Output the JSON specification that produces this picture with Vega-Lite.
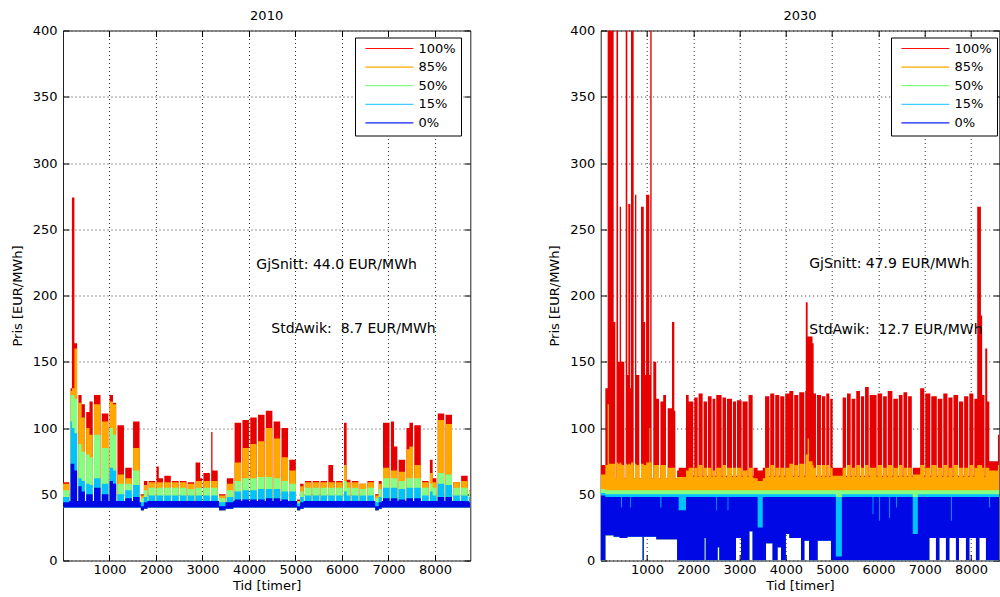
{
  "$schema": "https://vega.github.io/schema/vega-lite/v6.json",
  "background": "white",
  "padding": {"left": 10, "top": 8.5, "right": 0, "bottom": 0},
  "autosize": {"type": "pad"},
  "bounds": "flush",
  "spacing": 129.7,
  "resolve": {"scale": {"color": "independent"}, "legend": {"color": "independent"}},
  "config": {
    "font": "DejaVu Sans",
    "view": {"stroke": "#222", "strokeWidth": 1},
    "axis": {"labelFont": "DejaVu Sans", "titleFont": "DejaVu Sans", "labelColor": "#000", "titleColor": "#000", "labelFontSize": 13, "titleFontSize": 13, "titleFontWeight": "normal", "tickColor": "#000", "domain": false, "labelFlush": false, "format": "d"},
    "legend": {
      "labelFont": "DejaVu Sans", "orient": "none", "legendY": 7, "title": null,
      "symbolType": "stroke", "symbolSize": 2304, "clipHeight": 12, "rowPadding": 5.6, "padding": 5,
      "symbolOffset": 4.4, "labelOffset": 4, "labelFontSize": 13, "labelColor": "#000",
      "strokeColor": "#000", "fillColor": "#fff"
    }
  },
  "datasets": {
    "y2010": [
      {"t":0,"lo":40,"p0":44,"p15":48,"p50":53,"p85":58,"p100":59},
      {"t":135,"lo":40,"p0":45,"p15":45,"p50":45,"p85":45,"p100":45},
      {"t":163,"lo":40,"p0":73,"p15":105,"p50":125,"p85":128,"p100":130},
      {"t":192,"lo":40,"p0":73,"p15":100,"p50":125,"p85":130,"p100":274},
      {"t":245,"lo":40,"p0":68,"p15":96,"p50":122,"p85":160,"p100":164},
      {"t":303,"lo":40,"p0":45,"p15":45,"p50":45,"p85":45,"p100":45},
      {"t":331,"lo":40,"p0":56,"p15":62,"p50":88,"p85":119,"p100":125},
      {"t":400,"lo":40,"p0":52,"p15":60,"p50":82,"p85":108,"p100":118},
      {"t":471,"lo":40,"p0":45,"p15":45,"p50":45,"p85":45,"p100":45},
      {"t":499,"lo":40,"p0":50,"p15":58,"p50":80,"p85":100,"p100":112},
      {"t":570,"lo":40,"p0":50,"p15":57,"p50":78,"p85":95,"p100":120},
      {"t":639,"lo":40,"p0":45,"p15":45,"p50":45,"p85":45,"p100":45},
      {"t":667,"lo":40,"p0":55,"p15":62,"p50":95,"p85":118,"p100":125},
      {"t":807,"lo":40,"p0":45,"p15":45,"p50":45,"p85":45,"p100":45},
      {"t":835,"lo":40,"p0":50,"p15":58,"p50":85,"p85":105,"p100":111},
      {"t":975,"lo":40,"p0":45,"p15":45,"p50":45,"p85":45,"p100":45},
      {"t":1003,"lo":40,"p0":60,"p15":70,"p50":100,"p85":120,"p100":125},
      {"t":1075,"lo":40,"p0":58,"p15":68,"p50":95,"p85":118,"p100":119},
      {"t":1143,"lo":40,"p0":45,"p15":45,"p50":45,"p85":45,"p100":45},
      {"t":1171,"lo":40,"p0":45,"p15":50,"p50":58,"p85":65,"p100":102},
      {"t":1311,"lo":40,"p0":45,"p15":45,"p50":45,"p85":45,"p100":45},
      {"t":1339,"lo":40,"p0":47,"p15":53,"p50":58,"p85":62,"p100":70},
      {"t":1479,"lo":40,"p0":45,"p15":45,"p50":45,"p85":45,"p100":45},
      {"t":1507,"lo":40,"p0":48,"p15":57,"p50":68,"p85":85,"p100":105},
      {"t":1647,"lo":40,"p0":44,"p15":44,"p50":44,"p85":44,"p100":44},
      {"t":1675,"lo":38,"p0":41,"p15":44,"p50":47,"p85":49,"p100":50},
      {"t":1740,"lo":39,"p0":44,"p15":48,"p50":53,"p85":57,"p100":60},
      {"t":1815,"lo":40,"p0":45,"p15":45,"p50":45,"p85":45,"p100":45},
      {"t":1843,"lo":40,"p0":45,"p15":49,"p50":55,"p85":59,"p100":60},
      {"t":1983,"lo":40,"p0":45,"p15":45,"p50":45,"p85":45,"p100":45},
      {"t":2011,"lo":40,"p0":45,"p15":49,"p50":55,"p85":59,"p100":71},
      {"t":2060,"lo":40,"p0":45,"p15":49,"p50":55,"p85":59,"p100":62},
      {"t":2151,"lo":40,"p0":45,"p15":45,"p50":45,"p85":45,"p100":45},
      {"t":2179,"lo":40,"p0":45,"p15":49,"p50":55,"p85":59,"p100":64},
      {"t":2319,"lo":40,"p0":45,"p15":45,"p50":45,"p85":45,"p100":45},
      {"t":2347,"lo":40,"p0":45,"p15":49,"p50":55,"p85":59,"p100":60},
      {"t":2487,"lo":40,"p0":45,"p15":45,"p50":45,"p85":45,"p100":45},
      {"t":2515,"lo":40,"p0":45,"p15":49,"p50":55,"p85":59,"p100":60},
      {"t":2655,"lo":40,"p0":45,"p15":45,"p50":45,"p85":45,"p100":45},
      {"t":2683,"lo":40,"p0":45,"p15":49,"p50":54,"p85":58,"p100":59},
      {"t":2823,"lo":40,"p0":45,"p15":45,"p50":45,"p85":45,"p100":45},
      {"t":2851,"lo":40,"p0":45,"p15":49,"p50":55,"p85":60,"p100":74},
      {"t":2950,"lo":40,"p0":45,"p15":49,"p50":55,"p85":60,"p100":62},
      {"t":2991,"lo":40,"p0":45,"p15":45,"p50":45,"p85":45,"p100":45},
      {"t":3019,"lo":40,"p0":45,"p15":49,"p50":55,"p85":60,"p100":66},
      {"t":3159,"lo":40,"p0":45,"p15":45,"p50":45,"p85":45,"p100":45},
      {"t":3187,"lo":40,"p0":45,"p15":49,"p50":55,"p85":60,"p100":97},
      {"t":3215,"lo":40,"p0":45,"p15":49,"p50":55,"p85":60,"p100":68},
      {"t":3327,"lo":40,"p0":45,"p15":45,"p50":45,"p85":45,"p100":45},
      {"t":3355,"lo":38,"p0":41,"p15":44,"p50":47,"p85":49,"p100":50},
      {"t":3495,"lo":39,"p0":44,"p15":44,"p50":44,"p85":44,"p100":44},
      {"t":3523,"lo":39,"p0":44,"p15":48,"p50":53,"p85":58,"p100":62},
      {"t":3663,"lo":40,"p0":45,"p15":45,"p50":45,"p85":45,"p100":45},
      {"t":3691,"lo":40,"p0":46,"p15":52,"p50":60,"p85":74,"p100":104},
      {"t":3831,"lo":40,"p0":45,"p15":45,"p50":45,"p85":45,"p100":45},
      {"t":3859,"lo":40,"p0":46,"p15":53,"p50":62,"p85":85,"p100":106},
      {"t":3999,"lo":40,"p0":45,"p15":45,"p50":45,"p85":45,"p100":45},
      {"t":4027,"lo":40,"p0":46,"p15":53,"p50":62,"p85":88,"p100":108},
      {"t":4167,"lo":40,"p0":45,"p15":45,"p50":45,"p85":45,"p100":45},
      {"t":4195,"lo":40,"p0":46,"p15":54,"p50":63,"p85":90,"p100":110},
      {"t":4335,"lo":40,"p0":45,"p15":45,"p50":45,"p85":45,"p100":45},
      {"t":4363,"lo":40,"p0":47,"p15":54,"p50":63,"p85":100,"p100":113},
      {"t":4503,"lo":40,"p0":45,"p15":45,"p50":45,"p85":45,"p100":45},
      {"t":4531,"lo":40,"p0":47,"p15":54,"p50":62,"p85":92,"p100":105},
      {"t":4671,"lo":40,"p0":45,"p15":45,"p50":45,"p85":45,"p100":45},
      {"t":4699,"lo":40,"p0":46,"p15":52,"p50":60,"p85":78,"p100":100},
      {"t":4839,"lo":40,"p0":45,"p15":45,"p50":45,"p85":45,"p100":45},
      {"t":4867,"lo":40,"p0":45,"p15":52,"p50":58,"p85":68,"p100":76},
      {"t":5007,"lo":40,"p0":45,"p15":45,"p50":45,"p85":45,"p100":45},
      {"t":5035,"lo":38,"p0":41,"p15":43,"p50":44,"p85":45,"p100":46},
      {"t":5100,"lo":39,"p0":44,"p15":48,"p50":52,"p85":56,"p100":58},
      {"t":5175,"lo":40,"p0":45,"p15":45,"p50":45,"p85":45,"p100":45},
      {"t":5203,"lo":40,"p0":45,"p15":49,"p50":55,"p85":59,"p100":60},
      {"t":5343,"lo":40,"p0":45,"p15":45,"p50":45,"p85":45,"p100":45},
      {"t":5371,"lo":40,"p0":45,"p15":49,"p50":55,"p85":59,"p100":60},
      {"t":5511,"lo":40,"p0":45,"p15":45,"p50":45,"p85":45,"p100":45},
      {"t":5539,"lo":40,"p0":45,"p15":49,"p50":55,"p85":59,"p100":60},
      {"t":5679,"lo":40,"p0":45,"p15":45,"p50":45,"p85":45,"p100":45},
      {"t":5707,"lo":40,"p0":45,"p15":49,"p50":55,"p85":59,"p100":72},
      {"t":5810,"lo":40,"p0":45,"p15":49,"p50":55,"p85":59,"p100":60},
      {"t":5847,"lo":40,"p0":45,"p15":45,"p50":45,"p85":45,"p100":45},
      {"t":5875,"lo":40,"p0":45,"p15":49,"p50":55,"p85":59,"p100":60},
      {"t":6015,"lo":40,"p0":45,"p15":45,"p50":45,"p85":45,"p100":45},
      {"t":6043,"lo":40,"p0":45,"p15":52,"p50":60,"p85":72,"p100":104},
      {"t":6100,"lo":40,"p0":45,"p15":49,"p50":55,"p85":59,"p100":61},
      {"t":6183,"lo":40,"p0":45,"p15":45,"p50":45,"p85":45,"p100":45},
      {"t":6211,"lo":40,"p0":45,"p15":49,"p50":55,"p85":59,"p100":60},
      {"t":6351,"lo":40,"p0":45,"p15":45,"p50":45,"p85":45,"p100":45},
      {"t":6379,"lo":40,"p0":45,"p15":49,"p50":54,"p85":58,"p100":58},
      {"t":6519,"lo":40,"p0":45,"p15":45,"p50":45,"p85":45,"p100":45},
      {"t":6547,"lo":40,"p0":45,"p15":49,"p50":55,"p85":59,"p100":60},
      {"t":6687,"lo":40,"p0":45,"p15":45,"p50":45,"p85":45,"p100":45},
      {"t":6715,"lo":38,"p0":41,"p15":44,"p50":47,"p85":49,"p100":50},
      {"t":6790,"lo":39,"p0":44,"p15":48,"p50":54,"p85":58,"p100":60},
      {"t":6855,"lo":40,"p0":45,"p15":45,"p50":45,"p85":45,"p100":45},
      {"t":6883,"lo":40,"p0":47,"p15":55,"p50":62,"p85":70,"p100":104},
      {"t":7023,"lo":40,"p0":45,"p15":45,"p50":45,"p85":45,"p100":45},
      {"t":7051,"lo":40,"p0":47,"p15":55,"p50":62,"p85":68,"p100":105},
      {"t":7120,"lo":40,"p0":47,"p15":55,"p50":62,"p85":68,"p100":86},
      {"t":7191,"lo":40,"p0":45,"p15":45,"p50":45,"p85":45,"p100":45},
      {"t":7219,"lo":40,"p0":46,"p15":54,"p50":60,"p85":67,"p100":76},
      {"t":7359,"lo":40,"p0":45,"p15":45,"p50":45,"p85":45,"p100":45},
      {"t":7387,"lo":40,"p0":47,"p15":55,"p50":62,"p85":84,"p100":100},
      {"t":7450,"lo":40,"p0":47,"p15":55,"p50":62,"p85":86,"p100":104},
      {"t":7527,"lo":40,"p0":45,"p15":45,"p50":45,"p85":45,"p100":45},
      {"t":7555,"lo":40,"p0":47,"p15":55,"p50":62,"p85":72,"p100":102},
      {"t":7695,"lo":40,"p0":45,"p15":45,"p50":45,"p85":45,"p100":45},
      {"t":7723,"lo":40,"p0":45,"p15":49,"p50":55,"p85":59,"p100":60},
      {"t":7863,"lo":40,"p0":45,"p15":45,"p50":45,"p85":45,"p100":45},
      {"t":7891,"lo":40,"p0":45,"p15":52,"p50":58,"p85":66,"p100":76},
      {"t":7950,"lo":40,"p0":45,"p15":49,"p50":55,"p85":59,"p100":62},
      {"t":8031,"lo":40,"p0":45,"p15":45,"p50":45,"p85":45,"p100":45},
      {"t":8059,"lo":40,"p0":48,"p15":58,"p50":66,"p85":106,"p100":111},
      {"t":8199,"lo":40,"p0":45,"p15":45,"p50":45,"p85":45,"p100":45},
      {"t":8227,"lo":40,"p0":48,"p15":57,"p50":65,"p85":103,"p100":110},
      {"t":8367,"lo":40,"p0":45,"p15":45,"p50":45,"p85":45,"p100":45},
      {"t":8395,"lo":40,"p0":45,"p15":49,"p50":55,"p85":59,"p100":59},
      {"t":8535,"lo":40,"p0":45,"p15":45,"p50":45,"p85":45,"p100":45},
      {"t":8563,"lo":40,"p0":45,"p15":49,"p50":55,"p85":60,"p100":64},
      {"t":8703,"lo":40,"p0":45,"p15":45,"p50":45,"p85":45,"p100":45},
      {"t":8731,"lo":40,"p0":44,"p15":48,"p50":52,"p85":53,"p100":53},
      {"t":8760,"lo":40,"p0":44,"p15":48,"p50":52,"p85":53,"p100":53}
    ],
    "y2030": [
      {"t":0,"lo":0,"p0":49,"p15":51,"p50":54,"p85":65,"p100":72},
      {"t":100,"lo":19,"p0":48,"p15":50,"p50":53,"p85":72,"p100":130},
      {"t":150,"lo":19,"p0":48,"p15":50,"p50":53,"p85":118,"p100":400},
      {"t":180,"lo":19,"p0":48,"p15":50,"p50":53,"p85":73,"p100":400},
      {"t":280,"lo":18,"p0":48,"p15":50,"p50":53,"p85":73,"p100":180},
      {"t":316,"lo":18,"p0":48,"p15":50,"p50":53,"p85":62,"p100":62},
      {"t":340,"lo":18,"p0":48,"p15":50,"p50":53,"p85":74,"p100":400},
      {"t":375,"lo":18,"p0":48,"p15":50,"p50":53,"p85":73,"p100":150},
      {"t":410,"lo":17,"p0":48,"p15":50,"p50":53,"p85":74,"p100":267},
      {"t":440,"lo":17,"p0":40,"p15":50,"p50":53,"p85":73,"p100":150},
      {"t":456,"lo":17,"p0":48,"p15":50,"p50":53,"p85":72,"p100":150},
      {"t":510,"lo":17,"p0":48,"p15":50,"p50":53,"p85":62,"p100":62},
      {"t":540,"lo":17,"p0":48,"p15":50,"p50":53,"p85":73,"p100":400},
      {"t":575,"lo":18,"p0":48,"p15":50,"p50":53,"p85":72,"p100":140},
      {"t":596,"lo":18,"p0":48,"p15":50,"p50":53,"p85":73,"p100":269},
      {"t":640,"lo":18,"p0":40,"p15":50,"p50":53,"p85":72,"p100":130},
      {"t":655,"lo":18,"p0":48,"p15":50,"p50":53,"p85":74,"p100":400},
      {"t":712,"lo":18,"p0":48,"p15":50,"p50":53,"p85":62,"p100":62},
      {"t":740,"lo":18,"p0":48,"p15":50,"p50":53,"p85":73,"p100":276},
      {"t":770,"lo":18,"p0":48,"p15":50,"p50":53,"p85":72,"p100":140},
      {"t":834,"lo":18,"p0":48,"p15":50,"p50":53,"p85":62,"p100":62},
      {"t":870,"lo":18,"p0":48,"p15":50,"p50":53,"p85":73,"p100":267},
      {"t":906,"lo":0,"p0":48,"p15":50,"p50":53,"p85":73,"p100":267},
      {"t":930,"lo":18,"p0":48,"p15":50,"p50":53,"p85":72,"p100":180},
      {"t":960,"lo":18,"p0":48,"p15":50,"p50":53,"p85":72,"p100":140},
      {"t":980,"lo":18,"p0":48,"p15":50,"p50":53,"p85":74,"p100":276},
      {"t":1050,"lo":18,"p0":48,"p15":50,"p50":53,"p85":100,"p100":140},
      {"t":1070,"lo":18,"p0":48,"p15":50,"p50":53,"p85":74,"p100":400},
      {"t":1100,"lo":18,"p0":48,"p15":50,"p50":53,"p85":62,"p100":62},
      {"t":1136,"lo":18,"p0":48,"p15":50,"p50":53,"p85":72,"p100":150},
      {"t":1200,"lo":16,"p0":48,"p15":50,"p50":53,"p85":72,"p100":122},
      {"t":1260,"lo":16,"p0":48,"p15":50,"p50":53,"p85":62,"p100":62},
      {"t":1290,"lo":16,"p0":40,"p15":50,"p50":53,"p85":72,"p100":120},
      {"t":1310,"lo":16,"p0":48,"p15":50,"p50":53,"p85":72,"p100":120},
      {"t":1350,"lo":16,"p0":48,"p15":50,"p50":53,"p85":72,"p100":125},
      {"t":1410,"lo":16,"p0":48,"p15":50,"p50":53,"p85":62,"p100":62},
      {"t":1446,"lo":16,"p0":48,"p15":50,"p50":53,"p85":70,"p100":115},
      {"t":1540,"lo":16,"p0":48,"p15":50,"p50":53,"p85":70,"p100":180},
      {"t":1590,"lo":16,"p0":48,"p15":50,"p50":53,"p85":70,"p100":113},
      {"t":1612,"lo":16,"p0":48,"p15":50,"p50":53,"p85":62,"p100":62},
      {"t":1650,"lo":0,"p0":48,"p15":50,"p50":53,"p85":63,"p100":68},
      {"t":1684,"lo":0,"p0":38,"p15":50,"p50":53,"p85":63,"p100":70},
      {"t":1842,"lo":0,"p0":48,"p15":50,"p50":53,"p85":68,"p100":125},
      {"t":1900,"lo":0,"p0":48,"p15":50,"p50":53,"p85":70,"p100":120},
      {"t":2000,"lo":0,"p0":48,"p15":50,"p50":53,"p85":63,"p100":64},
      {"t":2020,"lo":0,"p0":48,"p15":50,"p50":53,"p85":70,"p100":123},
      {"t":2094,"lo":0,"p0":48,"p15":50,"p50":53,"p85":63,"p100":64},
      {"t":2114,"lo":0,"p0":48,"p15":50,"p50":53,"p85":72,"p100":126},
      {"t":2202,"lo":0,"p0":48,"p15":50,"p50":53,"p85":63,"p100":64},
      {"t":2222,"lo":0,"p0":48,"p15":50,"p50":53,"p85":70,"p100":120},
      {"t":2240,"lo":17,"p0":48,"p15":50,"p50":53,"p85":70,"p100":120},
      {"t":2270,"lo":0,"p0":48,"p15":50,"p50":53,"p85":70,"p100":120},
      {"t":2296,"lo":0,"p0":48,"p15":50,"p50":53,"p85":63,"p100":64},
      {"t":2316,"lo":0,"p0":48,"p15":50,"p50":53,"p85":70,"p100":124},
      {"t":2396,"lo":0,"p0":48,"p15":50,"p50":53,"p85":63,"p100":64},
      {"t":2416,"lo":0,"p0":48,"p15":50,"p50":53,"p85":68,"p100":122},
      {"t":2476,"lo":0,"p0":48,"p15":50,"p50":53,"p85":63,"p100":64},
      {"t":2496,"lo":0,"p0":38,"p15":50,"p50":53,"p85":70,"p100":125},
      {"t":2510,"lo":0,"p0":48,"p15":50,"p50":53,"p85":70,"p100":125},
      {"t":2526,"lo":10,"p0":48,"p15":50,"p50":53,"p85":70,"p100":125},
      {"t":2562,"lo":0,"p0":48,"p15":50,"p50":53,"p85":70,"p100":125},
      {"t":2612,"lo":0,"p0":48,"p15":50,"p50":53,"p85":63,"p100":64},
      {"t":2632,"lo":0,"p0":48,"p15":50,"p50":53,"p85":72,"p100":123},
      {"t":2706,"lo":0,"p0":48,"p15":50,"p50":53,"p85":63,"p100":64},
      {"t":2726,"lo":0,"p0":48,"p15":50,"p50":53,"p85":70,"p100":122},
      {"t":2742,"lo":0,"p0":38,"p15":50,"p50":53,"p85":70,"p100":122},
      {"t":2757,"lo":0,"p0":48,"p15":50,"p50":53,"p85":70,"p100":122},
      {"t":2836,"lo":0,"p0":48,"p15":50,"p50":53,"p85":63,"p100":64},
      {"t":2856,"lo":0,"p0":48,"p15":50,"p50":53,"p85":70,"p100":120},
      {"t":2922,"lo":17,"p0":48,"p15":50,"p50":53,"p85":63,"p100":64},
      {"t":2942,"lo":17,"p0":48,"p15":50,"p50":53,"p85":70,"p100":121},
      {"t":3030,"lo":0,"p0":48,"p15":50,"p50":53,"p85":70,"p100":121},
      {"t":3044,"lo":0,"p0":48,"p15":50,"p50":53,"p85":63,"p100":64},
      {"t":3064,"lo":0,"p0":48,"p15":50,"p50":53,"p85":68,"p100":120},
      {"t":3174,"lo":0,"p0":48,"p15":50,"p50":53,"p85":63,"p100":64},
      {"t":3194,"lo":0,"p0":48,"p15":50,"p50":53,"p85":70,"p100":125},
      {"t":3210,"lo":22,"p0":48,"p15":50,"p50":53,"p85":70,"p100":125},
      {"t":3282,"lo":0,"p0":48,"p15":50,"p50":53,"p85":63,"p100":64},
      {"t":3300,"lo":0,"p0":48,"p15":50,"p50":53,"p85":62,"p100":70},
      {"t":3390,"lo":0,"p0":25,"p15":50,"p50":53,"p85":60,"p100":68},
      {"t":3500,"lo":0,"p0":48,"p15":50,"p50":53,"p85":62,"p100":70},
      {"t":3550,"lo":0,"p0":48,"p15":50,"p50":53,"p85":70,"p100":124},
      {"t":3570,"lo":13,"p0":48,"p15":50,"p50":53,"p85":70,"p100":124},
      {"t":3642,"lo":13,"p0":48,"p15":50,"p50":53,"p85":63,"p100":64},
      {"t":3662,"lo":13,"p0":48,"p15":50,"p50":53,"p85":72,"p100":126},
      {"t":3714,"lo":0,"p0":48,"p15":50,"p50":53,"p85":72,"p100":126},
      {"t":3750,"lo":0,"p0":48,"p15":50,"p50":53,"p85":63,"p100":64},
      {"t":3770,"lo":0,"p0":48,"p15":50,"p50":53,"p85":70,"p100":125},
      {"t":3820,"lo":10,"p0":48,"p15":50,"p50":53,"p85":70,"p100":125},
      {"t":3858,"lo":10,"p0":48,"p15":50,"p50":53,"p85":63,"p100":64},
      {"t":3878,"lo":10,"p0":48,"p15":50,"p50":53,"p85":70,"p100":124},
      {"t":3894,"lo":0,"p0":48,"p15":50,"p50":53,"p85":70,"p100":124},
      {"t":3966,"lo":0,"p0":48,"p15":50,"p50":53,"p85":63,"p100":64},
      {"t":3986,"lo":0,"p0":48,"p15":50,"p50":53,"p85":70,"p100":126},
      {"t":4000,"lo":20,"p0":48,"p15":50,"p50":53,"p85":70,"p100":126},
      {"t":4074,"lo":17,"p0":48,"p15":50,"p50":53,"p85":73,"p100":128},
      {"t":4160,"lo":17,"p0":48,"p15":50,"p50":53,"p85":63,"p100":64},
      {"t":4180,"lo":17,"p0":48,"p15":50,"p50":53,"p85":72,"p100":125},
      {"t":4268,"lo":17,"p0":48,"p15":50,"p50":53,"p85":63,"p100":64},
      {"t":4288,"lo":17,"p0":48,"p15":50,"p50":53,"p85":73,"p100":127},
      {"t":4326,"lo":0,"p0":48,"p15":50,"p50":53,"p85":73,"p100":127},
      {"t":4398,"lo":15,"p0":48,"p15":50,"p50":53,"p85":63,"p100":64},
      {"t":4418,"lo":15,"p0":48,"p15":50,"p50":53,"p85":73,"p100":128},
      {"t":4430,"lo":15,"p0":48,"p15":50,"p50":53,"p85":80,"p100":195},
      {"t":4470,"lo":15,"p0":48,"p15":50,"p50":53,"p85":92,"p100":169},
      {"t":4500,"lo":0,"p0":48,"p15":50,"p50":53,"p85":75,"p100":169},
      {"t":4576,"lo":0,"p0":48,"p15":50,"p50":53,"p85":72,"p100":164},
      {"t":4600,"lo":0,"p0":48,"p15":50,"p50":53,"p85":70,"p100":126},
      {"t":4650,"lo":0,"p0":48,"p15":50,"p50":53,"p85":63,"p100":64},
      {"t":4670,"lo":0,"p0":48,"p15":50,"p50":53,"p85":72,"p100":125},
      {"t":4686,"lo":15,"p0":48,"p15":50,"p50":53,"p85":72,"p100":125},
      {"t":4758,"lo":15,"p0":48,"p15":50,"p50":53,"p85":63,"p100":64},
      {"t":4778,"lo":15,"p0":48,"p15":50,"p50":53,"p85":72,"p100":124},
      {"t":4852,"lo":15,"p0":48,"p15":50,"p50":53,"p85":63,"p100":64},
      {"t":4872,"lo":15,"p0":48,"p15":50,"p50":53,"p85":72,"p100":126},
      {"t":4938,"lo":15,"p0":48,"p15":50,"p50":53,"p85":63,"p100":64},
      {"t":4958,"lo":15,"p0":48,"p15":50,"p50":53,"p85":70,"p100":122},
      {"t":4974,"lo":0,"p0":48,"p15":50,"p50":53,"p85":70,"p100":122},
      {"t":5010,"lo":0,"p0":48,"p15":50,"p50":53,"p85":64,"p100":70},
      {"t":5080,"lo":0,"p0":3,"p15":48,"p50":53,"p85":64,"p100":70},
      {"t":5210,"lo":0,"p0":48,"p15":50,"p50":53,"p85":64,"p100":70},
      {"t":5226,"lo":0,"p0":48,"p15":50,"p50":53,"p85":70,"p100":123},
      {"t":5300,"lo":0,"p0":48,"p15":50,"p50":53,"p85":63,"p100":64},
      {"t":5320,"lo":0,"p0":48,"p15":50,"p50":53,"p85":72,"p100":126},
      {"t":5400,"lo":0,"p0":48,"p15":50,"p50":53,"p85":63,"p100":64},
      {"t":5420,"lo":0,"p0":48,"p15":50,"p50":53,"p85":70,"p100":122},
      {"t":5500,"lo":0,"p0":48,"p15":50,"p50":53,"p85":63,"p100":64},
      {"t":5520,"lo":0,"p0":48,"p15":50,"p50":53,"p85":72,"p100":128},
      {"t":5600,"lo":0,"p0":48,"p15":50,"p50":53,"p85":63,"p100":64},
      {"t":5620,"lo":0,"p0":48,"p15":50,"p50":53,"p85":70,"p100":124},
      {"t":5690,"lo":0,"p0":48,"p15":50,"p50":53,"p85":63,"p100":64},
      {"t":5710,"lo":0,"p0":48,"p15":50,"p50":53,"p85":72,"p100":131},
      {"t":5790,"lo":0,"p0":48,"p15":50,"p50":53,"p85":63,"p100":64},
      {"t":5810,"lo":0,"p0":48,"p15":50,"p50":53,"p85":70,"p100":125},
      {"t":5874,"lo":0,"p0":35,"p15":50,"p50":53,"p85":70,"p100":125},
      {"t":5890,"lo":0,"p0":48,"p15":50,"p50":53,"p85":70,"p100":125},
      {"t":5960,"lo":0,"p0":48,"p15":50,"p50":53,"p85":63,"p100":64},
      {"t":5980,"lo":0,"p0":48,"p15":50,"p50":53,"p85":72,"p100":126},
      {"t":6018,"lo":0,"p0":30,"p15":50,"p50":53,"p85":72,"p100":126},
      {"t":6034,"lo":0,"p0":48,"p15":50,"p50":53,"p85":72,"p100":126},
      {"t":6080,"lo":0,"p0":48,"p15":50,"p50":53,"p85":63,"p100":64},
      {"t":6100,"lo":0,"p0":48,"p15":50,"p50":53,"p85":70,"p100":124},
      {"t":6180,"lo":0,"p0":48,"p15":50,"p50":53,"p85":63,"p100":64},
      {"t":6200,"lo":0,"p0":48,"p15":50,"p50":53,"p85":72,"p100":128},
      {"t":6234,"lo":0,"p0":32,"p15":50,"p50":53,"p85":72,"p100":128},
      {"t":6250,"lo":0,"p0":48,"p15":50,"p50":53,"p85":72,"p100":128},
      {"t":6300,"lo":0,"p0":48,"p15":50,"p50":53,"p85":63,"p100":64},
      {"t":6320,"lo":0,"p0":48,"p15":50,"p50":53,"p85":70,"p100":122},
      {"t":6378,"lo":0,"p0":40,"p15":50,"p50":53,"p85":70,"p100":122},
      {"t":6394,"lo":0,"p0":48,"p15":50,"p50":53,"p85":70,"p100":122},
      {"t":6420,"lo":0,"p0":48,"p15":50,"p50":53,"p85":63,"p100":64},
      {"t":6440,"lo":0,"p0":48,"p15":50,"p50":53,"p85":72,"p100":125},
      {"t":6520,"lo":0,"p0":48,"p15":50,"p50":53,"p85":63,"p100":64},
      {"t":6540,"lo":0,"p0":48,"p15":50,"p50":53,"p85":70,"p100":127},
      {"t":6620,"lo":0,"p0":48,"p15":50,"p50":53,"p85":63,"p100":64},
      {"t":6640,"lo":0,"p0":48,"p15":50,"p50":53,"p85":70,"p100":124},
      {"t":6720,"lo":0,"p0":48,"p15":50,"p50":53,"p85":63,"p100":64},
      {"t":6740,"lo":0,"p0":20,"p15":48,"p50":53,"p85":65,"p100":70},
      {"t":6850,"lo":0,"p0":48,"p15":50,"p50":53,"p85":65,"p100":70},
      {"t":6900,"lo":0,"p0":48,"p15":50,"p50":53,"p85":72,"p100":130},
      {"t":6990,"lo":0,"p0":48,"p15":50,"p50":53,"p85":63,"p100":64},
      {"t":7010,"lo":0,"p0":48,"p15":50,"p50":53,"p85":70,"p100":126},
      {"t":7098,"lo":17,"p0":48,"p15":50,"p50":53,"p85":70,"p100":126},
      {"t":7120,"lo":17,"p0":48,"p15":50,"p50":53,"p85":63,"p100":64},
      {"t":7140,"lo":17,"p0":48,"p15":50,"p50":53,"p85":72,"p100":124},
      {"t":7242,"lo":0,"p0":48,"p15":50,"p50":53,"p85":72,"p100":124},
      {"t":7260,"lo":0,"p0":48,"p15":50,"p50":53,"p85":63,"p100":64},
      {"t":7280,"lo":0,"p0":48,"p15":50,"p50":53,"p85":70,"p100":122},
      {"t":7314,"lo":17,"p0":48,"p15":50,"p50":53,"p85":70,"p100":122},
      {"t":7380,"lo":17,"p0":48,"p15":50,"p50":53,"p85":63,"p100":64},
      {"t":7400,"lo":17,"p0":48,"p15":50,"p50":53,"p85":72,"p100":126},
      {"t":7458,"lo":0,"p0":48,"p15":50,"p50":53,"p85":72,"p100":126},
      {"t":7490,"lo":0,"p0":48,"p15":50,"p50":53,"p85":63,"p100":64},
      {"t":7510,"lo":0,"p0":48,"p15":50,"p50":53,"p85":70,"p100":123},
      {"t":7530,"lo":17,"p0":48,"p15":50,"p50":53,"p85":70,"p100":123},
      {"t":7566,"lo":17,"p0":30,"p15":50,"p50":53,"p85":70,"p100":123},
      {"t":7582,"lo":17,"p0":48,"p15":50,"p50":53,"p85":70,"p100":123},
      {"t":7600,"lo":17,"p0":48,"p15":50,"p50":53,"p85":63,"p100":64},
      {"t":7620,"lo":17,"p0":48,"p15":50,"p50":53,"p85":72,"p100":125},
      {"t":7674,"lo":0,"p0":48,"p15":50,"p50":53,"p85":72,"p100":125},
      {"t":7720,"lo":0,"p0":48,"p15":50,"p50":53,"p85":63,"p100":64},
      {"t":7740,"lo":17,"p0":48,"p15":50,"p50":53,"p85":70,"p100":120},
      {"t":7830,"lo":17,"p0":48,"p15":50,"p50":53,"p85":63,"p100":64},
      {"t":7850,"lo":17,"p0":48,"p15":50,"p50":53,"p85":70,"p100":124},
      {"t":7890,"lo":0,"p0":48,"p15":50,"p50":53,"p85":70,"p100":124},
      {"t":7940,"lo":0,"p0":48,"p15":50,"p50":53,"p85":63,"p100":64},
      {"t":7962,"lo":17,"p0":48,"p15":50,"p50":53,"p85":72,"p100":126},
      {"t":8050,"lo":17,"p0":48,"p15":50,"p50":53,"p85":63,"p100":64},
      {"t":8070,"lo":17,"p0":48,"p15":50,"p50":53,"p85":70,"p100":122},
      {"t":8106,"lo":0,"p0":48,"p15":50,"p50":53,"p85":70,"p100":122},
      {"t":8133,"lo":0,"p0":48,"p15":50,"p50":53,"p85":72,"p100":267},
      {"t":8178,"lo":17,"p0":48,"p15":50,"p50":53,"p85":72,"p100":267},
      {"t":8213,"lo":17,"p0":48,"p15":50,"p50":53,"p85":72,"p100":185},
      {"t":8240,"lo":17,"p0":48,"p15":50,"p50":53,"p85":70,"p100":125},
      {"t":8290,"lo":17,"p0":48,"p15":50,"p50":53,"p85":63,"p100":64},
      {"t":8306,"lo":17,"p0":48,"p15":50,"p50":53,"p85":70,"p100":160},
      {"t":8322,"lo":0,"p0":48,"p15":50,"p50":53,"p85":70,"p100":160},
      {"t":8350,"lo":0,"p0":48,"p15":50,"p50":53,"p85":70,"p100":120},
      {"t":8394,"lo":0,"p0":40,"p15":50,"p50":53,"p85":68,"p100":75},
      {"t":8410,"lo":0,"p0":48,"p15":50,"p50":53,"p85":68,"p100":75},
      {"t":8580,"lo":0,"p0":48,"p15":50,"p50":53,"p85":72,"p100":95},
      {"t":8610,"lo":0,"p0":48,"p15":50,"p50":53,"p85":72,"p100":95}
    ]
  },
  "hconcat": [
    {
      "title": {"text": "2010", "fontSize": 13, "fontWeight": "normal", "font": "DejaVu Sans", "color": "#000", "offset": 2},
      "width": 407.3,
      "height": 530,
      "data": {"name": "y2010"},
      "resolve": {"axis": {"x": "independent", "y": "independent"}},
      "layer": [
        {
          "mark": {"type": "area", "interpolate": "step-after", "clip": true},
          "encoding": {
            "x": {"field": "t", "type": "quantitative", "scale": {"domain": [0, 8760], "nice": false, "zero": false},
                  "axis": {"orient": "bottom", "values": [1000,2000,3000,4000,5000,6000,7000,8000], "title": "Tid [timer]", "grid": true, "gridDash": [1,3], "gridColor": "#333", "tickSize": -6, "labelPadding": 9, "titlePadding": 3}},
            "y": {"field": "p100", "type": "quantitative", "scale": {"domain": [0, 400], "nice": false},
                  "axis": {"orient": "left", "values": [0,50,100,150,200,250,300,350,400], "title": "Pris [EUR/MWh]", "grid": true, "gridDash": [1,3], "gridColor": "#333", "tickSize": -6, "labelPadding": 12, "titlePadding": 8}},
            "y2": {"field": "lo"},
            "color": {"datum": "100%", "type": "nominal",
                      "scale": {"domain": ["100%","85%","50%","15%","0%"], "range": ["#e60000","#ffa800","#84ff84","#00c2ff","#0008e6"]},
                      "legend": {"legendX": 292,
                                 "encode": {"symbols": {"update": {"strokeWidth": {"value": 1.2}, "stroke": [
                                   {"test": "datum.value === '100%'", "value": "#ff1010"},
                                   {"test": "datum.value === '85%'", "value": "#ffa800"},
                                   {"test": "datum.value === '50%'", "value": "#84ff84"},
                                   {"test": "datum.value === '15%'", "value": "#40ccff"},
                                   {"value": "#1020ff"}]}}}}}
          }
        },
        {
          "mark": {"type": "area", "interpolate": "step-after", "clip": true},
          "encoding": {
            "x": {"field": "t", "type": "quantitative", "scale": {"domain": [0, 8760], "nice": false, "zero": false}, "axis": null},
            "y": {"field": "p85", "type": "quantitative", "scale": {"domain": [0, 400], "nice": false}, "axis": null},
            "y2": {"field": "lo"},
            "color": {"datum": "85%", "type": "nominal"}
          }
        },
        {
          "mark": {"type": "area", "interpolate": "step-after", "clip": true},
          "encoding": {
            "x": {"field": "t", "type": "quantitative", "scale": {"domain": [0, 8760], "nice": false, "zero": false}, "axis": null},
            "y": {"field": "p50", "type": "quantitative", "scale": {"domain": [0, 400], "nice": false}, "axis": null},
            "y2": {"field": "lo"},
            "color": {"datum": "50%", "type": "nominal"}
          }
        },
        {
          "mark": {"type": "area", "interpolate": "step-after", "clip": true},
          "encoding": {
            "x": {"field": "t", "type": "quantitative", "scale": {"domain": [0, 8760], "nice": false, "zero": false}, "axis": null},
            "y": {"field": "p15", "type": "quantitative", "scale": {"domain": [0, 400], "nice": false}, "axis": null},
            "y2": {"field": "lo"},
            "color": {"datum": "15%", "type": "nominal"}
          }
        },
        {
          "mark": {"type": "area", "interpolate": "step-after", "clip": true},
          "encoding": {
            "x": {"field": "t", "type": "quantitative", "scale": {"domain": [0, 8760], "nice": false, "zero": false}, "axis": null},
            "y": {"field": "p0", "type": "quantitative", "scale": {"domain": [0, 400], "nice": false}, "axis": null},
            "y2": {"field": "lo"},
            "color": {"datum": "0%", "type": "nominal"}
          }
        },
        {
          "data": {"values": [
            {"t": 4159, "v": 223.2, "label": "GjSnitt: 44.0 EUR/MWh"},
            {"t": 4481, "v": 174.6, "label": "StdAwik: \u00a08.7 EUR/MWh"}
          ]},
          "mark": {"type": "text", "align": "left", "baseline": "middle", "fontSize": 14, "font": "DejaVu Sans", "color": "#000"},
          "encoding": {
            "x": {"field": "t", "type": "quantitative", "scale": {"domain": [0, 8760], "nice": false, "zero": false},
                  "axis": {"orient": "top", "values": [1000,2000,3000,4000,5000,6000,7000,8000], "labels": false, "grid": false, "tickSize": -6, "title": null}},
            "y": {"field": "v", "type": "quantitative", "scale": {"domain": [0, 400], "nice": false},
                  "axis": {"orient": "right", "values": [0,50,100,150,200,250,300,350,400], "labels": false, "grid": false, "tickSize": -6, "title": null}},
            "text": {"field": "label"}
          }
        }
      ]
    },
    {
      "title": {"text": "2030", "fontSize": 13, "fontWeight": "normal", "font": "DejaVu Sans", "color": "#000", "offset": 2},
      "width": 398.6,
      "height": 530,
      "data": {"name": "y2030"},
      "resolve": {"axis": {"x": "independent", "y": "independent"}},
      "layer": [
        {
          "mark": {"type": "area", "interpolate": "step-after", "clip": true},
          "encoding": {
            "x": {"field": "t", "type": "quantitative", "scale": {"domain": [0, 8610], "nice": false, "zero": false},
                  "axis": {"orient": "bottom", "values": [1000,2000,3000,4000,5000,6000,7000,8000], "title": "Tid [timer]", "grid": true, "gridDash": [1,3], "gridColor": "#333", "tickSize": -6, "labelPadding": 9, "titlePadding": 3}},
            "y": {"field": "p100", "type": "quantitative", "scale": {"domain": [0, 400], "nice": false},
                  "axis": {"orient": "left", "values": [0,50,100,150,200,250,300,350,400], "title": "Pris [EUR/MWh]", "grid": true, "gridDash": [1,3], "gridColor": "#333", "tickSize": -6, "labelPadding": 12, "titlePadding": 8}},
            "y2": {"field": "lo"},
            "color": {"datum": "100%", "type": "nominal",
                      "scale": {"domain": ["100%","85%","50%","15%","0%"], "range": ["#e60000","#ffa800","#84ff84","#00c2ff","#0008e6"]},
                      "legend": {"legendX": 290.3,
                                 "encode": {"symbols": {"update": {"strokeWidth": {"value": 1.2}, "stroke": [
                                   {"test": "datum.value === '100%'", "value": "#ff1010"},
                                   {"test": "datum.value === '85%'", "value": "#ffa800"},
                                   {"test": "datum.value === '50%'", "value": "#84ff84"},
                                   {"test": "datum.value === '15%'", "value": "#40ccff"},
                                   {"value": "#1020ff"}]}}}}}
          }
        },
        {
          "mark": {"type": "area", "interpolate": "step-after", "clip": true},
          "encoding": {
            "x": {"field": "t", "type": "quantitative", "scale": {"domain": [0, 8610], "nice": false, "zero": false}, "axis": null},
            "y": {"field": "p85", "type": "quantitative", "scale": {"domain": [0, 400], "nice": false}, "axis": null},
            "y2": {"field": "lo"},
            "color": {"datum": "85%", "type": "nominal"}
          }
        },
        {
          "mark": {"type": "area", "interpolate": "step-after", "clip": true},
          "encoding": {
            "x": {"field": "t", "type": "quantitative", "scale": {"domain": [0, 8610], "nice": false, "zero": false}, "axis": null},
            "y": {"field": "p50", "type": "quantitative", "scale": {"domain": [0, 400], "nice": false}, "axis": null},
            "y2": {"field": "lo"},
            "color": {"datum": "50%", "type": "nominal"}
          }
        },
        {
          "mark": {"type": "area", "interpolate": "step-after", "clip": true},
          "encoding": {
            "x": {"field": "t", "type": "quantitative", "scale": {"domain": [0, 8610], "nice": false, "zero": false}, "axis": null},
            "y": {"field": "p15", "type": "quantitative", "scale": {"domain": [0, 400], "nice": false}, "axis": null},
            "y2": {"field": "lo"},
            "color": {"datum": "15%", "type": "nominal"}
          }
        },
        {
          "mark": {"type": "area", "interpolate": "step-after", "clip": true},
          "encoding": {
            "x": {"field": "t", "type": "quantitative", "scale": {"domain": [0, 8610], "nice": false, "zero": false}, "axis": null},
            "y": {"field": "p0", "type": "quantitative", "scale": {"domain": [0, 400], "nice": false}, "axis": null},
            "y2": {"field": "lo"},
            "color": {"datum": "0%", "type": "nominal"}
          }
        },
        {
          "data": {"values": [
            {"t": 4505, "v": 224.0, "label": "GjSnitt: 47.9 EUR/MWh"},
            {"t": 4505, "v": 174.0, "label": "StdAwik: \u00a012.7 EUR/MWh"}
          ]},
          "mark": {"type": "text", "align": "left", "baseline": "middle", "fontSize": 14, "font": "DejaVu Sans", "color": "#000"},
          "encoding": {
            "x": {"field": "t", "type": "quantitative", "scale": {"domain": [0, 8610], "nice": false, "zero": false},
                  "axis": {"orient": "top", "values": [1000,2000,3000,4000,5000,6000,7000,8000], "labels": false, "grid": false, "tickSize": -6, "title": null}},
            "y": {"field": "v", "type": "quantitative", "scale": {"domain": [0, 400], "nice": false},
                  "axis": {"orient": "right", "values": [0,50,100,150,200,250,300,350,400], "labels": false, "grid": false, "tickSize": -6, "title": null}},
            "text": {"field": "label"}
          }
        }
      ]
    }
  ]
}
